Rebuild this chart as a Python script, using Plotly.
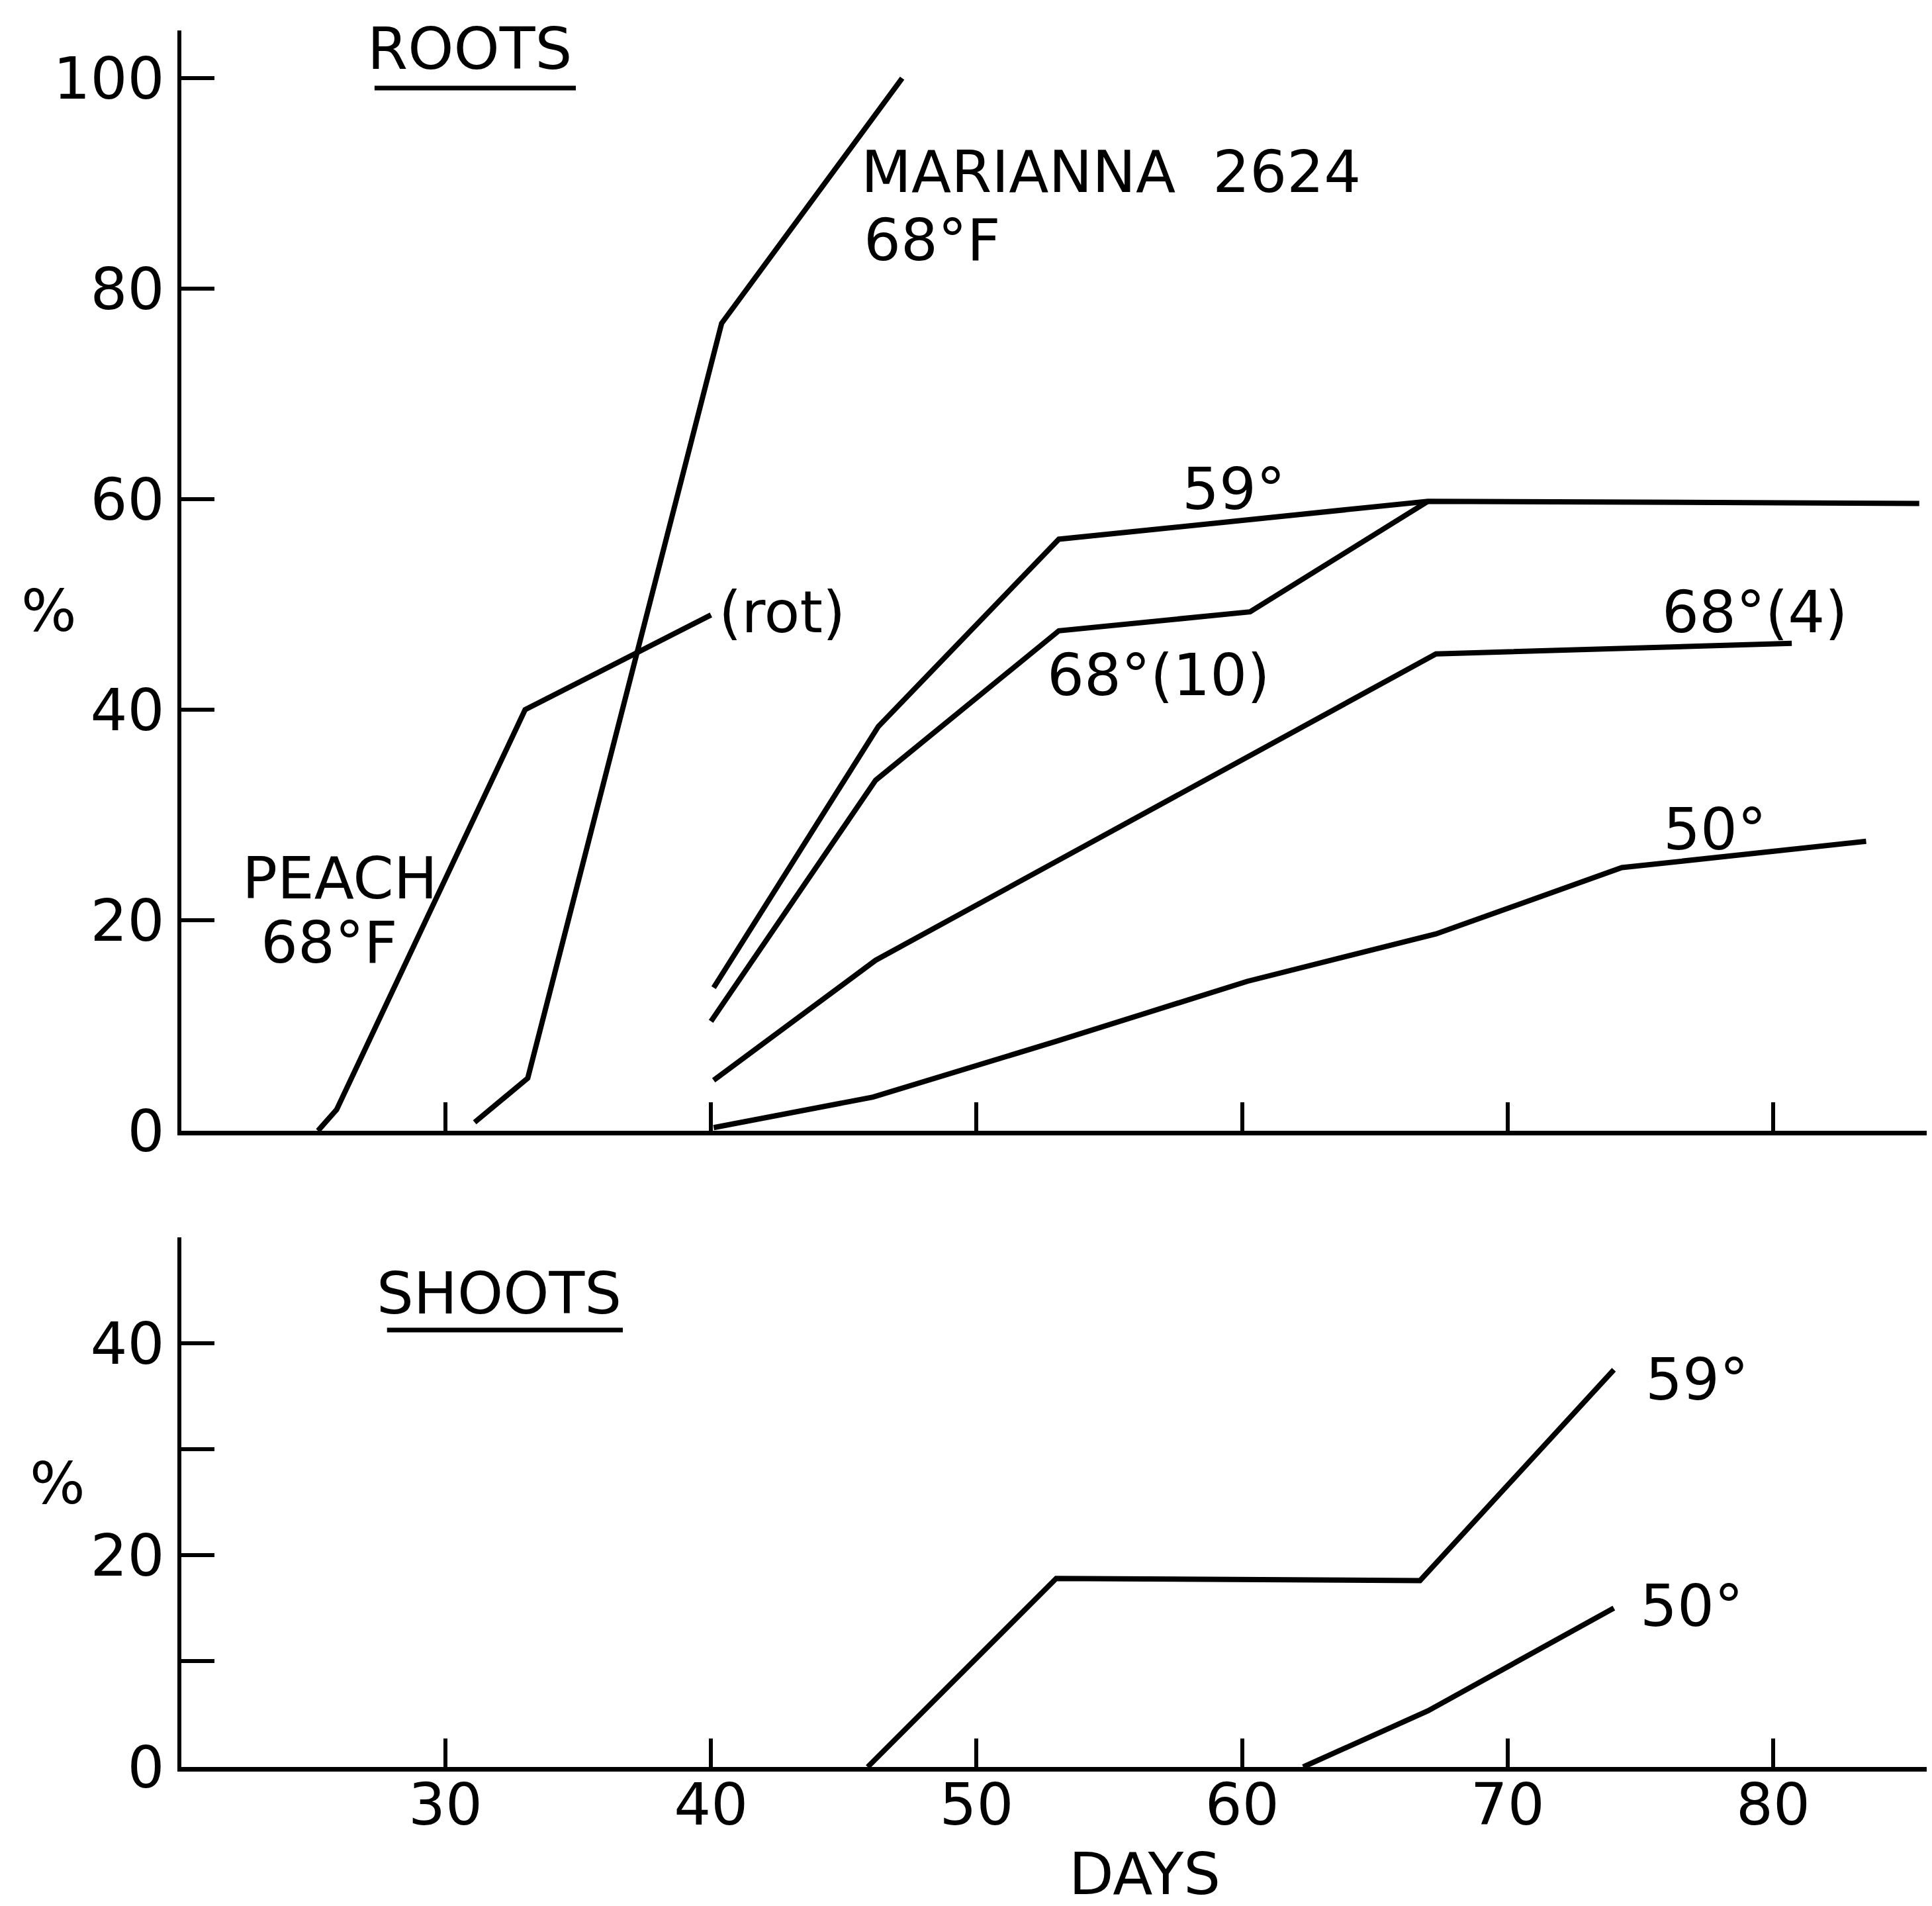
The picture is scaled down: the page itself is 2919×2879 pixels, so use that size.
import plotly.graph_objects as go

# ---------------- data ----------------
# ROOTS panel (% rooted vs days)
peach_days = [25.2, 25.9, 33.0, 40.0]
peach_pct = [0, 2, 40, 49]

marianna_days = [31.1, 33.1, 40.4, 47.2]
marianna_pct = [0.8, 5, 76.7, 100]

r59_days = [40.1, 46.3, 53.1, 67.0, 85.5]
r59_pct = [13.6, 38.4, 56.2, 59.8, 59.6]

r68_10_days = [40.0, 46.2, 53.1, 60.3, 67.0]
r68_10_pct = [10.4, 33.3, 47.5, 49.3, 59.8]

r68_4_days = [40.1, 46.2, 67.3, 80.7]
r68_4_pct = [4.8, 16.2, 45.3, 46.3]

r50_days = [40.1, 46.1, 53.0, 60.2, 67.3, 74.3, 83.5]
r50_pct = [0.3, 3.2, 8.5, 14.2, 18.7, 25.0, 27.5]

# SHOOTS panel
s59_days = [45.9, 53.0, 66.7, 74.0]
s59_pct = [0, 17.8, 17.6, 37.5]

s50_days = [62.3, 67.0, 74.0]
s50_pct = [0, 5.3, 15.0]

x_ticks = [30, 40, 50, 60, 70, 80]
roots_yticks = [0, 20, 40, 60, 80, 100]
shoots_yticks = [0, 10, 20, 30, 40]
shoots_yticktext = ["0", "", "20", "", "40"]

# ---------------- figure ----------------
FONT = "DejaVu Sans"
FS = 88
LW = 8

fig = go.Figure()

roots = [
    (peach_days, peach_pct),
    (marianna_days, marianna_pct),
    (r59_days, r59_pct),
    (r68_10_days, r68_10_pct),
    (r68_4_days, r68_4_pct),
    (r50_days, r50_pct),
]
for xs, ys in roots:
    fig.add_trace(go.Scatter(x=xs, y=ys, mode="lines", xaxis="x", yaxis="y",
                             line=dict(color="black", width=LW),
                             showlegend=False, hoverinfo="skip"))

shoots = [(s59_days, s59_pct), (s50_days, s50_pct)]
for xs, ys in shoots:
    fig.add_trace(go.Scatter(x=xs, y=ys, mode="lines", xaxis="x2", yaxis="y2",
                             line=dict(color="black", width=LW),
                             showlegend=False, hoverinfo="skip"))

xr = [20.055, 86.18]
common_axis = dict(showgrid=False, zeroline=False, showline=True, linecolor="black",
                   ticks="inside", tickcolor="black",
                   tickfont=dict(family=FONT, size=FS, color="black"))

fig.update_layout(
    width=2919, height=2879,
    margin=dict(l=266, r=0, t=38, b=218, pad=0),
    paper_bgcolor="white", plot_bgcolor="white",
    font=dict(family=FONT, size=FS, color="black"),
    xaxis=dict(domain=[0, 1], anchor="y", range=xr, tickvals=x_ticks,
               showticklabels=False, ticklen=43, tickwidth=6, linewidth=7,
               **common_axis),
    yaxis=dict(domain=[0.36637, 1], anchor="x", range=[0, 104.53],
               tickvals=roots_yticks, ticklen=50, tickwidth=6, linewidth=6,
               ticklabelstandoff=2, **common_axis),
    xaxis2=dict(domain=[0, 1], anchor="y2", range=xr, tickvals=x_ticks,
                ticklen=43, tickwidth=6, linewidth=7, ticklabelstandoff=-26,
                **common_axis),
    yaxis2=dict(domain=[0, 0.30499], anchor="x2", range=[0, 50],
                tickvals=shoots_yticks, ticktext=shoots_yticktext,
                ticklen=50, tickwidth=6, linewidth=6, ticklabelstandoff=2,
                **common_axis),
)

def label(text, x, y, xref="x", yref="y", xanchor="left"):
    fig.add_annotation(text=text, x=x, y=y, xref=xref, yref=yref,
                       xanchor=xanchor, yanchor="middle", showarrow=False,
                       font=dict(family=FONT, size=FS, color="black"))

# ROOTS panel labels
label("ROOTS", 27.0, 102.8)
label("MARIANNA  2624", 45.6, 91.1)
label("68°F", 45.7, 84.6)
label("(rot)", 40.25, 49.25)
label("PEACH", 22.3, 24.0)
label("68°F", 23.0, 17.9)
label("59°", 57.7, 61.0)
label("68°(10)", 52.6, 43.3)
label("68°(4)", 75.75, 49.25)
label("50°", 75.8, 28.65)

# SHOOTS panel labels
label("SHOOTS", 27.35, 44.7, "x2", "y2")
label("59°", 75.15, 36.6, "x2", "y2")
label("50°", 74.95, 15.2, "x2", "y2")

# axis titles
label("%", -0.0755, 0.6660, "paper", "paper", "center")
label("%", -0.0705, 0.1635, "paper", "paper", "center")
label("DAYS", 0.5488, -0.0614, "paper", "paper", "center")

# underlines
fig.add_shape(type="line", xref="x", yref="y", x0=27.33, x1=34.91, y0=99.06, y1=99.06,
              line=dict(color="black", width=7))
fig.add_shape(type="line", xref="x2", yref="y2", x0=27.8, x1=36.68, y0=41.25, y1=41.25,
              line=dict(color="black", width=7))

fig.write_html("out.html")
